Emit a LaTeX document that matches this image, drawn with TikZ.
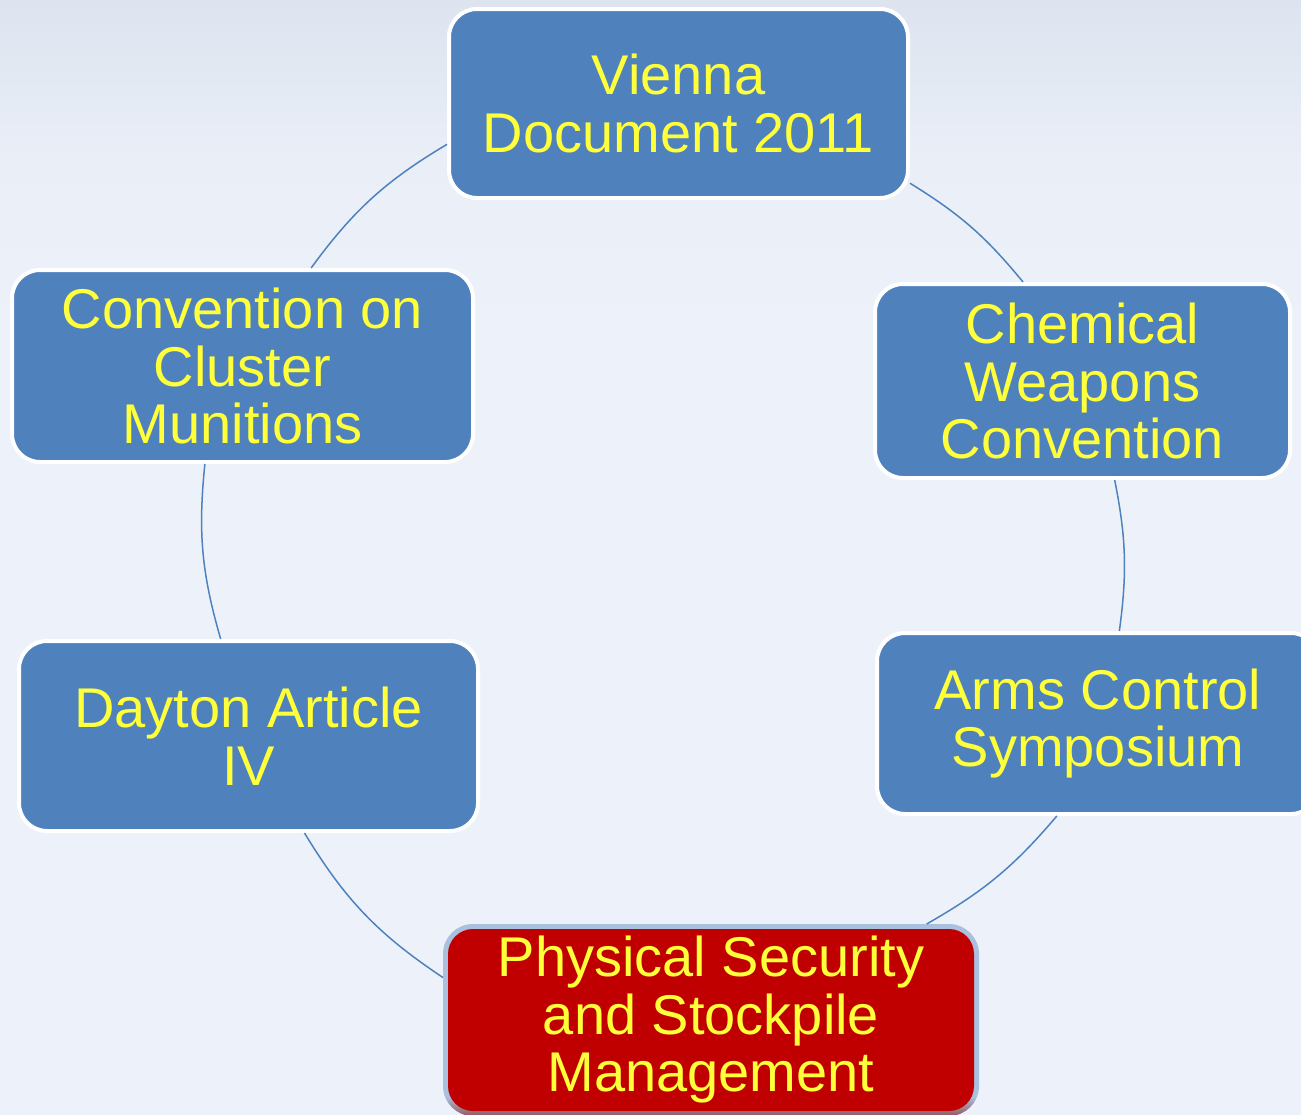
\documentclass[tikz,border=0pt]{standalone}
\usepackage{fontspec}
\setmainfont{Liberation Sans}
\usetikzlibrary{calc}
\definecolor{boxblue}{HTML}{4F81BD}
\definecolor{txtyellow}{HTML}{FFFF3A}
\definecolor{boxred}{HTML}{C00000}
\definecolor{redborder}{HTML}{A9C0DE}
\definecolor{brdbot}{HTML}{94565C}
\definecolor{bgtop}{HTML}{DDE4EF}
\definecolor{bgmid}{HTML}{E9EEF7}
\definecolor{bgbot}{HTML}{EDF2FA}
\pgfdeclareverticalshading{physborder}{100bp}{color(0bp)=(brdbot); color(25bp)=(brdbot); color(30bp)=(redborder); color(100bp)=(redborder)}
\pgfdeclareverticalshading{bgshade}{100bp}{color(0bp)=(bgbot); color(25bp)=(bgbot); color(60bp)=(bgbot); color(68bp)=(bgmid); color(75bp)=(bgtop); color(100bp)=(bgtop)}
\pgfdeclarelayer{back}
\pgfdeclarelayer{bg}
\pgfsetlayers{back,bg,main}
\begin{document}
\begin{tikzpicture}[x=1pt,y=1pt,
  box/.style={draw=white, line width=4pt, fill=boxblue, rounded corners=28pt,
    text=txtyellow, align=center, inner sep=0pt,
    font=\fontsize{56}{57.5}\selectfont},
  redbox/.style={draw=none, fill=boxred, rounded corners=25pt, outer sep=5pt,
    text=txtyellow, align=center, inner sep=0pt,
    font=\fontsize{56}{57.5}\selectfont},
  link/.style={draw=boxblue, line width=1.5pt}]
\useasboundingbox (0,0) rectangle (1301,-1114);
\begin{pgfonlayer}{back}
\shade[shading=bgshade] (0,0) rectangle (1301,-1114);
\end{pgfonlayer}

\node[box, minimum width=459pt, minimum height=189pt] (vienna) at (678.5,-103.5) {Vienna\\Document 2011};
\node[box, minimum width=461pt, minimum height=192pt] (ccm) at (242.5,-366) {Convention on\\Cluster\\Munitions};
\node[box, minimum width=415pt, minimum height=194pt] (chem) at (1082.5,-381) {Chemical\\Weapons\\Convention};
\node[box, minimum width=442pt, minimum height=181pt] (arms) at (1098,-723.5) {Arms Control\\Symposium};
\node[box, minimum width=459pt, minimum height=190pt] (dayton) at (248.5,-736) {Dayton Article\\IV};
\node[redbox, minimum width=526pt, minimum height=182pt] (phys) at (711,-1020) {Physical Security\\and Stockpile\\Management};
\begin{pgfonlayer}{bg}
\shade[shading=physborder, rounded corners=30pt] (phys.south west) rectangle (phys.north east);
\end{pgfonlayer}

\draw[link] (vienna.190) to[bend right=11.5] (ccm.55);
\draw[link] (ccm.249) to[bend right=11] (dayton.106);
\draw[link] (dayton.300) to[bend right=12.5] (phys.171);
\draw[link] (phys.24) to[bend right=10] (arms.246);
\draw[link] (arms.77) to[bend right=9.5] (chem.288);
\draw[link] (chem.121) to[bend right=9.5] (vienna.341);
\end{tikzpicture}
\end{document}
